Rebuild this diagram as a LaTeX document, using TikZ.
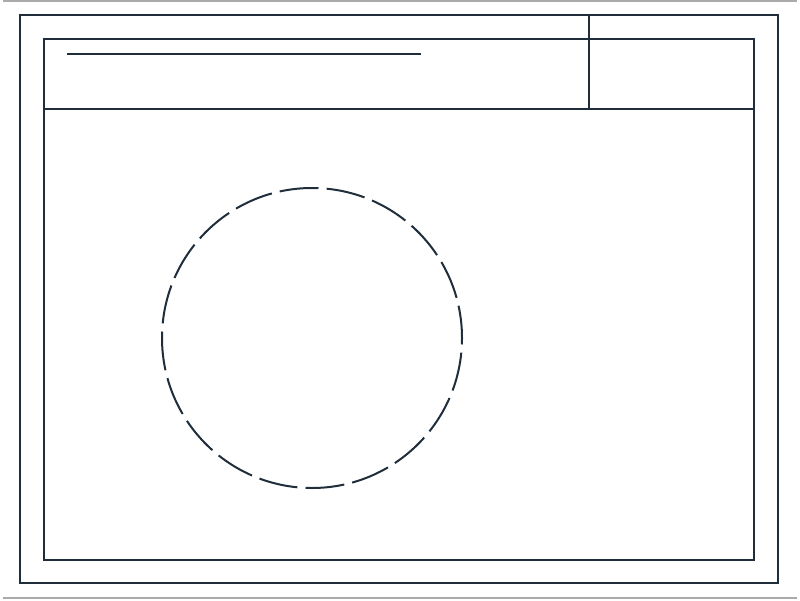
\documentclass[tikz,border=0pt]{standalone}
\usepackage{xcolor}
\usepackage{tikz}
\definecolor{inkline}{HTML}{1F2E3A}
\definecolor{rulegray}{HTML}{AAAAAA}

\begin{document}
\begin{tikzpicture}[line width=0.04cm, draw=inkline]
    \useasboundingbox (0,0) rectangle (16,12);

    % Page rules
    \draw[rulegray, line width=0.03cm] (0.06,11.98) -- (15.94,11.98);
    \draw[rulegray, line width=0.03cm] (0.06,0.04) -- (15.94,0.04);

    % Sheet frame
    \draw[inkline] (0.4,0.34) rectangle (15.56,11.7);
    \draw[inkline] (0.88,0.8) rectangle (15.08,11.22);

    % Title block
    \draw[inkline] (0.88,9.82) -- (15.08,9.82);
    \draw[inkline] (11.78,9.82) -- (11.78,11.7);
    \draw[inkline] (1.34,10.92) -- (8.42,10.92);

    % Dashed circle
    \draw[inkline, dash pattern=on 22.2pt off 4.62pt, dash phase=3.7pt] (6.24,5.24) circle (3);
\end{tikzpicture}
\end{document}
